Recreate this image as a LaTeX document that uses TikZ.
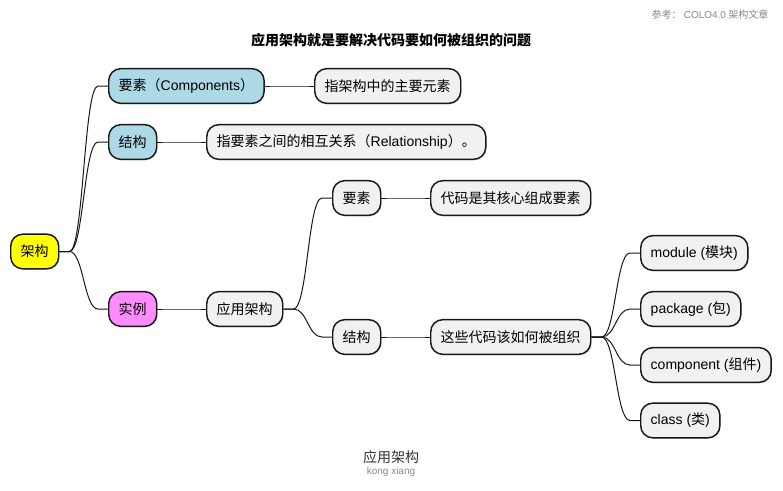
\documentclass[tikz,border=0pt]{standalone}
\usepackage{fontspec}
\setmainfont{Noto Sans CJK SC}
\newfontfamily\latinfont{Liberation Sans}
\usetikzlibrary{calc,shadows}
\definecolor{rootfill}{HTML}{FFFF00}
\definecolor{partfill}{HTML}{ADD8E6}
\definecolor{casefill}{HTML}{FF8CFF}
\definecolor{leaffill}{HTML}{F1F1F1}
\definecolor{edge}{HTML}{181818}
\definecolor{notegray}{HTML}{888888}
\newcommand{\lat}[1]{{\latinfont #1}}

\begin{document}
\begin{tikzpicture}[
    x=0.75pt,y=-0.75pt,
    idea/.style={draw=edge,line width=1.1pt,rounded corners=9pt,fill=leaffill,anchor=west,
        minimum height=26pt,inner xsep=7.5pt,inner ysep=0pt,font=\fontsize{10.5}{12}\selectfont,
        drop shadow={shadow xshift=0.8pt,shadow yshift=-0.8pt,opacity=0.2}},
    branch/.style={draw=edge,line width=0.75pt,
        to path={-- ++(10,0) .. controls ($(\tikztostart)+(24,0)$) and ($(\tikztotarget)+(-24,0)$) .. ($(\tikztotarget)+(-10,0)$) -- (\tikztotarget)}}
]
    \useasboundingbox (0,0) rectangle (783,490);

    % header and title
    \node[anchor=east,text=notegray,font=\fontsize{7.5}{9}\selectfont] (ref) at (773,15) {参考： \lat{COLO4.0} 架构文章};
    \node[font=\fontsize{10.5}{12}\selectfont\bfseries] (title) at (391,40) {应用架构就是要解决代码要如何被组织的问题};

    % mind map
    \node[idea,fill=rootfill] (arch) at (10,251.5) {架构};

    \node[idea,fill=partfill] (elem) at (108,86) {要素（\lat{Components}）};
    \node[idea] (elemdesc) at (314,86) {指架构中的主要元素};

    \node[idea,fill=partfill] (struct) at (108,142) {结构};
    \node[idea] (structdesc) at (206,142) {指要素之间的相互关系（\lat{Relationship}）。};

    \node[idea,fill=casefill] (case) at (108,309) {实例};
    \node[idea] (apparch) at (206,309) {应用架构};

    \node[idea] (subelem) at (332,198) {要素};
    \node[idea] (subelemdesc) at (430,198) {代码是其核心组成要素};

    \node[idea] (substruct) at (332,337) {结构};
    \node[idea] (substructdesc) at (430,337) {这些代码该如何被组织};

    \node[idea] (module) at (640,253) {\lat{module (}模块\lat{)}};
    \node[idea] (package) at (640,309) {\lat{package (}包\lat{)}};
    \node[idea] (component) at (640,365) {\lat{component (}组件\lat{)}};
    \node[idea] (class) at (640,420.5) {\lat{class (}类\lat{)}};

    \draw[branch] (arch.east) to (elem.west);
    \draw[branch] (arch.east) to (struct.west);
    \draw[branch] (arch.east) to (case.west);
    \draw[branch] (elem.east) to (elemdesc.west);
    \draw[branch] (struct.east) to (structdesc.west);
    \draw[branch] (case.east) to (apparch.west);
    \draw[branch] (apparch.east) to (subelem.west);
    \draw[branch] (apparch.east) to (substruct.west);
    \draw[branch] (subelem.east) to (subelemdesc.west);
    \draw[branch] (substruct.east) to (substructdesc.west);
    \draw[branch] (substructdesc.east) to (module.west);
    \draw[branch] (substructdesc.east) to (package.west);
    \draw[branch] (substructdesc.east) to (component.west);
    \draw[branch] (substructdesc.east) to (class.west);

    % footer
    \node[text=black!80,font=\fontsize{10.5}{12}\selectfont] (caption) at (391,457) {应用架构};
    \node[text=notegray,font=\fontsize{7.5}{9}\selectfont] (author) at (391,472) {\lat{kong xiang}};
\end{tikzpicture}
\end{document}
